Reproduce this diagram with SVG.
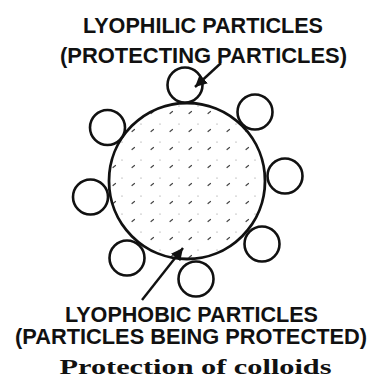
<svg xmlns="http://www.w3.org/2000/svg" width="371" height="379" viewBox="0 0 371 379">
<style>
.lbl{font-family:"Liberation Sans",Arial,sans-serif;font-weight:bold;font-size:21.5px;fill:#111;text-anchor:middle}
.cap{font-family:"Liberation Serif","Times New Roman",serif;font-weight:bold;font-size:21px;fill:#111;text-anchor:middle}
.small{fill:#fff;stroke:#111;stroke-width:2.6}
.big{stroke:#111;stroke-width:2.8}
.conn{stroke:#111;stroke-width:2.4;fill:none}
</style>
<defs>
<pattern id="stipple" patternUnits="userSpaceOnUse" width="19" height="18" x="109" y="103">
<rect width="19" height="18" fill="#fff"/>
<path d="M4 10.5 L6.5 8.5" stroke="#444" stroke-width="1.2" stroke-linecap="round"/>
<circle cx="13" cy="3" r="0.6" fill="#888"/>
</pattern>
<marker id="ah" viewBox="0 0 10 10" refX="10" refY="5" markerWidth="5" markerHeight="5" orient="auto" markerUnits="strokeWidth">
<path d="M0 0 L10 5 L0 10 Z" fill="#111"/>
</marker>
</defs>
<rect width="371" height="379" fill="#fff"/>
<g id="lyophobic-particle">
<circle class="big" cx="187" cy="181" r="78" fill="url(#stipple)"/>
</g>
<g id="lyophilic-particles">
<circle id="p-top" class="small" cx="185" cy="85" r="17.5"/>
<circle id="p-upper-right" class="small" cx="255" cy="112" r="17.5"/>
<circle id="p-right" class="small" cx="285" cy="176" r="17.5"/>
<circle id="p-lower-right" class="small" cx="262" cy="244" r="17.5"/>
<circle id="p-bottom" class="small" cx="196" cy="279" r="17.5"/>
<circle id="p-lower-left" class="small" cx="127" cy="258" r="17.5"/>
<circle id="p-left" class="small" cx="90.5" cy="197" r="17.5"/>
<circle id="p-upper-left" class="small" cx="107.5" cy="127.5" r="17.5"/>
</g>
<g id="connectors">
<line class="conn" x1="221" y1="63" x2="195" y2="87" marker-end="url(#ah)"/>
<line class="conn" x1="142" y1="300" x2="183" y2="248" marker-end="url(#ah)"/>
</g>
<g id="labels">
<text class="lbl" x="203" y="33" textLength="240" lengthAdjust="spacingAndGlyphs">LYOPHILIC PARTICLES</text>
<text class="lbl" x="203.5" y="63" textLength="287" lengthAdjust="spacingAndGlyphs">(PROTECTING PARTICLES)</text>
<text class="lbl" x="191.5" y="322" textLength="253" lengthAdjust="spacingAndGlyphs">LYOPHOBIC PARTICLES</text>
<text class="lbl" x="191" y="344" textLength="352" lengthAdjust="spacingAndGlyphs">(PARTICLES BEING PROTECTED)</text>
<text class="cap" x="195.5" y="374" textLength="272" lengthAdjust="spacingAndGlyphs">Protection of colloids</text>
</g>
</svg>
